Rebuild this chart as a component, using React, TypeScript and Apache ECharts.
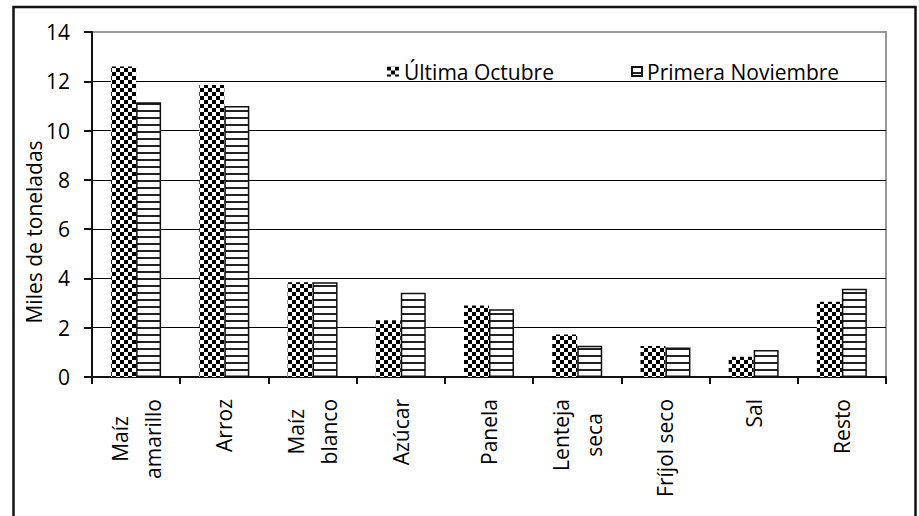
import React, { useEffect, useRef } from "react";
import * as echarts from "echarts";

const categories = ["Maíz\namarillo", "Arroz", "Maíz\nblanco", "Azúcar", "Panela", "Lenteja\nseca", "Fríjol seco", "Sal", "Resto"];
const seriesNames = ["Última Octubre", "Primera Noviembre"];
const octubre = [12.6, 11.85, 3.85, 2.3, 2.9, 1.72, 1.26, 0.82, 3.05];
const noviembre = [11.15, 11.0, 3.85, 3.42, 2.75, 1.27, 1.2, 1.1, 3.58];
const yTicks = { min: 0, max: 14, interval: 2 };

function checkerPattern() {
  const c = document.createElement("canvas");
  c.width = 8;
  c.height = 8;
  const ctx = c.getContext("2d")!;
  ctx.fillStyle = "#fff";
  ctx.fillRect(0, 0, 8, 8);
  ctx.fillStyle = "#000";
  ctx.fillRect(0, 0, 4, 4);
  ctx.fillRect(4, 4, 4, 4);
  return { image: c, repeat: "repeat", imageWidth: 8, imageHeight: 8 } as any;
}

function stripePattern() {
  const c = document.createElement("canvas");
  c.width = 8;
  c.height = 7;
  const ctx = c.getContext("2d")!;
  ctx.fillStyle = "#fff";
  ctx.fillRect(0, 0, 8, 7);
  ctx.fillStyle = "#222";
  ctx.fillRect(0, 5, 8, 2);
  return { image: c, repeat: "repeat", imageWidth: 8, imageHeight: 7 } as any;
}

const FONT = "'Open Sans', 'Noto Sans', sans-serif";

export default function App() {
  const ref = useRef<HTMLDivElement>(null);
  useEffect(() => {
    if (!ref.current) return;
    const chart = echarts.init(ref.current, null, { renderer: "svg" });
    const checker = checkerPattern();
    const stripes = stripePattern();
    chart.setOption({
      animation: false,
      textStyle: { fontFamily: FONT, color: "#000" },
      graphic: [
        {
          type: "rect",
          shape: { x: 13.5, y: 7, width: 902, height: 530 },
          style: { fill: "none", stroke: "#111", lineWidth: 2.5 },
          z: 100,
        },
      ],
      legend: [
        {
          data: [seriesNames[0]],
          left: 382,
          top: 56,
          icon: "rect",
          itemWidth: 12,
          itemHeight: 10,
          itemGap: 0,
          textStyle: { fontFamily: FONT, fontSize: 21, color: "#000" },
        },
        {
          data: [seriesNames[1]],
          left: 626,
          top: 56,
          icon: "rect",
          itemWidth: 10,
          itemHeight: 9,
          itemGap: 0,
          textStyle: { fontFamily: FONT, fontSize: 21, color: "#000" },
        },
      ],
      grid: {
        left: 92,
        right: 33,
        top: 32,
        bottom: 139,
        show: true,
        borderColor: "#999",
        borderWidth: 2,
        containLabel: false,
      },
      xAxis: {
        type: "category",
        data: categories,
        boundaryGap: true,
        axisLine: { show: true, lineStyle: { color: "#111", width: 2 } },
        axisTick: { show: true, inside: false, length: 7, lineStyle: { color: "#111", width: 2 } },
        axisLabel: {
          rotate: 90,
          margin: 22,
          interval: 0,
          color: "#000",
          fontFamily: FONT,
          fontSize: 21,
          lineHeight: 33,
          formatter: (v: string) => v.split("\n").map((l) => `{c|${l}}`).join("\n"),
          rich: {
            c: { align: "center", fontFamily: FONT, fontSize: 21, lineHeight: 33, color: "#000" },
          },
        },
        splitLine: { show: false },
      },
      yAxis: {
        type: "value",
        min: yTicks.min,
        max: yTicks.max,
        interval: yTicks.interval,
        name: "Miles de toneladas",
        nameLocation: "middle",
        nameRotate: 90,
        nameGap: 48,
        nameMoveOverlap: false,
        nameTextStyle: { fontFamily: FONT, fontSize: 21, color: "#000", padding: [0, 55, 0, 0] },
        axisLine: { show: true, lineStyle: { color: "#111", width: 2 } },
        axisTick: { show: true, inside: false, length: 8, lineStyle: { color: "#111", width: 2 } },
        axisLabel: { margin: 22, color: "#000", fontFamily: FONT, fontSize: 21 },
        splitLine: { show: true, showMaxLine: false, lineStyle: { color: "#000", width: 1.2 } },
      },
      series: [
        {
          name: seriesNames[0],
          type: "bar",
          data: octubre,
          barWidth: 25,
          barGap: "0%",
          itemStyle: { color: checker },
        },
        {
          name: seriesNames[1],
          type: "bar",
          data: noviembre,
          barWidth: 25,
          barGap: "0%",
          itemStyle: { color: stripes, borderColor: "#111", borderWidth: 1.5 },
        },
      ],
    });
    return () => chart.dispose();
  }, []);
  return <div ref={ref} style={{ width: 919, height: 516, position: "absolute", left: 0, top: 0 }} />;
}
